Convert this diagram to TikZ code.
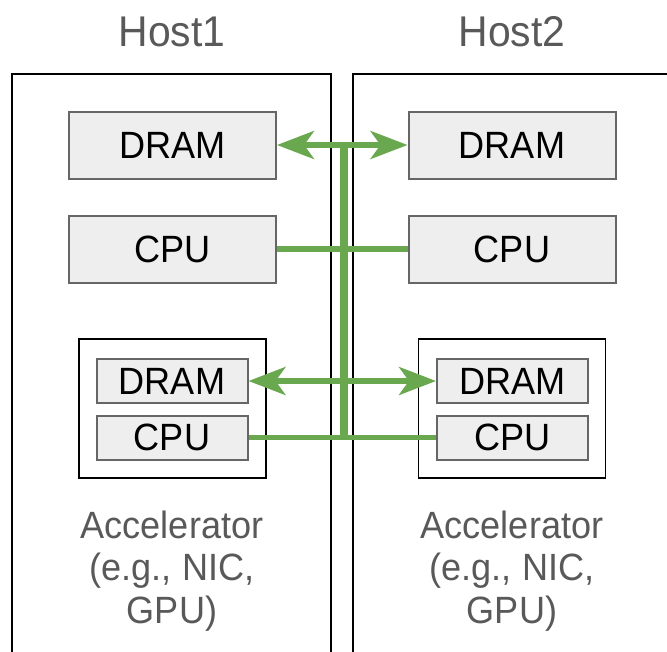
\documentclass[tikz,border=0pt]{standalone}
\usepackage{fontspec}
\setmainfont[FakeStretch=0.95]{Liberation Sans}
\usetikzlibrary{arrows.meta}
\definecolor{boxfill}{HTML}{EEEEEE}
\definecolor{boxline}{HTML}{666666}
\definecolor{labelgray}{HTML}{595959}
\definecolor{busgreen}{HTML}{6AA84F}
\tikzset{
  unit/.style={draw=boxline, fill=boxfill, line width=2pt, inner sep=0pt,
    font=\fontsize{38}{42}\selectfont, text=black},
  big/.style={unit, minimum width=207pt, minimum height=67pt},
  small/.style={unit, minimum width=151pt, minimum height=44pt},
  accbox/.style={draw=black, line width=1.6pt, minimum width=187pt, minimum height=139pt, inner sep=0pt},
  hostframe/.style={draw=black, line width=2pt},
  title/.style={text=labelgray, font=\fontsize{43}{46}\selectfont},
  caption/.style={text=labelgray, align=center, font=\fontsize{38}{42.5}\selectfont},
  link/.style={draw=busgreen, line width=5.5pt},
  biarrow/.style={link, {Stealth[length=37pt, width=28pt, inset=10pt]}-{Stealth[length=37pt, width=28pt, inset=10pt]}},
  bus/.style={draw=busgreen, line width=8pt},
}
\begin{document}
\begin{tikzpicture}[x=1pt, y=-1pt]
\useasboundingbox (0,0) rectangle (667,651);

% host frames (open at the bottom, right one runs off the edge)
\draw[hostframe] (12,660) -- (12,74) -- (331,74) -- (331,660);
\draw[hostframe] (353,660) -- (353,74) -- (680,74);

\node[title] (h1) at (172,32) {Host1};
\node[title] (h2) at (512,32) {Host2};

% host components
\node[big] (dramA) at (172.5,145) {DRAM};
\node[big] (cpuA)  at (172.5,249) {CPU};
\node[big] (dramB) at (512,145) {DRAM};
\node[big] (cpuB)  at (512,249) {CPU};

% accelerators
\node[accbox] (accA) at (172.5,408.5) {};
\node[accbox] (accB) at (512,408.5) {};
\node[small] (adramA) at (172,381) {DRAM};
\node[small] (acpuA)  at (172,437.5) {CPU};
\node[small] (adramB) at (512.5,381) {DRAM};
\node[small] (acpuB)  at (512.5,437.5) {CPU};

\node[caption] (capA) at (172,571) {Accelerator\\(e.g., NIC,\\GPU)};
\node[caption] (capB) at (512,571) {Accelerator\\(e.g., NIC,\\GPU)};

% interconnect
\coordinate (bustop) at (344,145);
\coordinate (busbot) at (344,437.5);
\draw[bus] ([yshift=-2.5pt]bustop) -- ([yshift=2.5pt]busbot);
\draw[biarrow] (dramA.east) -- (dramB.west);
\draw[link] (cpuA.east) -- (cpuB.west);
\draw[biarrow] (adramA.east) -- (adramB.west);
\draw[link] (acpuA.east) -- (acpuB.west);
\end{tikzpicture}
\end{document}
